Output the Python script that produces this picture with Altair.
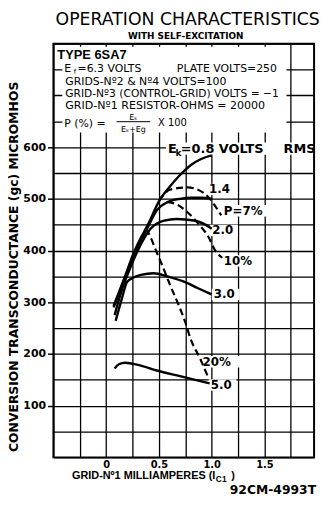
import altair as alt
import pandas as pd

# ---------------- data ----------------
# solid curves: conversion transconductance vs grid-1 current, per Ek (volts rms)
x_08 = [0.07, 0.15, 0.2, 0.25, 0.3, 0.4, 0.5, 0.6, 0.7, 0.8, 0.9, 1.0]
y_08 = [293, 335, 362, 390, 413, 452, 495, 523, 546, 565, 577, 584]
x_14 = [0.07, 0.15, 0.2, 0.3, 0.4, 0.48, 0.55, 0.61, 0.7, 0.8, 0.9, 1.0]
y_14 = [290, 332, 358, 408, 447, 478, 490, 496, 500, 502, 502, 500]
x_20 = [0.08, 0.15, 0.2, 0.3, 0.42, 0.55, 0.67, 0.83, 0.98, 1.0]
y_20 = [275, 325, 352, 400, 442, 458, 461, 458, 445, 442]
x_30 = [0.09, 0.15, 0.2, 0.33, 0.45, 0.58, 0.77, 0.86, 1.0]
y_30 = [264, 308, 340, 353, 356, 350, 337, 328, 315]
x_50 = [0.08, 0.12, 0.18, 0.3, 0.48, 0.7, 0.98]
y_50 = [172, 180, 183, 179, 168, 157, 143]
# dashed curves: constant P (%)
x_p7 = [0.5, 0.61, 0.77, 0.92, 1.03, 1.09]
y_p7 = [497, 518, 522, 512, 487, 468]
x_p10 = [0.58, 0.68, 0.77, 0.89, 0.97, 1.03, 1.1]
y_p10 = [494, 488, 474, 448, 426, 401, 386]
x_p20 = [0.38, 0.42, 0.47, 0.53, 0.61, 0.69, 0.75, 0.8, 0.89, 0.97]
y_p20 = [442, 426, 401, 372, 331, 293, 261, 229, 191, 153]

solid_series = {"0.8": (x_08, y_08), "1.4": (x_14, y_14), "2.0": (x_20, y_20),
                "3.0": (x_30, y_30), "5.0": (x_50, y_50)}
dashed_series = {"7%": (x_p7, y_p7), "10%": (x_p10, y_p10), "20%": (x_p20, y_p20)}

# curve labels
label_text = ["1.4", "P=7%", "2.0", "10%", "3.0", "20%", "5.0"]
label_x = [0.975, 1.115, 1.005, 1.115, 1.02, 0.912, 0.99]
label_y = [518, 477, 439, 380, 315, 185, 140]
label_wpx = [23, 46, 26, 37, 26, 40, 26]

x_ticks = [-0.5 + 0.25 * i for i in range(10)]
y_ticks = list(range(0, 801, 50))

# ---------------- build tables ----------------
rows = []
for kind, group in (("solid", solid_series), ("dashed", dashed_series)):
    for name, (xs_, ys_) in group.items():
        for i, (a, b) in enumerate(zip(xs_, ys_)):
            rows.append({"x": a, "y": b, "s": name, "k": kind, "i": i})
df = pd.DataFrame(rows)
lbl = pd.DataFrame({"x": label_x, "y": label_y, "t": label_text, "w": label_wpx})

W, H = 264, 419
PXU = W / (1.97 + 0.5)
xs = alt.Scale(domain=[-0.5, 1.97], nice=False, zero=False)
ys = alt.Scale(domain=[0, 800], nice=False, zero=False)

xaxis = alt.Axis(
    values=x_ticks, title=None, ticks=False, domain=False, grid=True,
    gridColor="black", gridWidth=1.3, gridOpacity=1,
    labelExpr="(datum.value==0)?'0':(datum.value==0.5||datum.value==1||datum.value==1.5)?format(datum.value,'.1f'):''",
    labelFont="DejaVu Sans", labelFontWeight="bold", labelFontSize=10,
    labelColor="black", labelPadding=2, labelFlush=False, labelOverlap=False)
yaxis = alt.Axis(
    values=y_ticks, title=None, domain=False, grid=True,
    gridColor="black", gridWidth=1.3, gridOpacity=1,
    ticks=True, tickSize=6, tickColor="black", tickWidth=1.5,
    tickOpacity={"condition": {"test": "datum.value>=100 && datum.value<=600 && datum.value%100==0", "value": 1}, "value": 0},
    labelExpr="(datum.value>=100 && datum.value<=600 && datum.value%100==0)?datum.label:''",
    labelFont="DejaVu Sans", labelFontWeight="bold", labelFontSize=11,
    labelColor="black", labelPadding=2, labelFlush=False, labelOverlap=False)


def X(f):
    return alt.X(f, scale=xs, axis=xaxis)


def Y(f):
    return alt.Y(f, scale=ys, axis=yaxis)


one = pd.DataFrame({"t": [""]})


def ptxt(t, px, py, size, weight="normal", align="left", font="DejaVu Sans", angle=0, baseline="alphabetic"):
    return alt.Chart(pd.DataFrame({"t": [t]})).mark_text(
        align=align, baseline=baseline, font=font, fontSize=size,
        fontWeight=weight, angle=angle, color="black"
    ).encode(x=alt.value(px), y=alt.value(py), text="t:N")


# header white block (hides grid under the lettering)
header_bg = alt.Chart(one).mark_rect(color="white").encode(
    x=alt.value(9), x2=alt.value(236), y=alt.value(3), y2=alt.value(90))

# white patches behind labels
lbl_bg = alt.Chart(lbl).transform_calculate(
    x1=f"datum.x - 2/{PXU}", x2=f"datum.x + datum.w/{PXU}",
    y1="datum.y - 11", y2="datum.y + 11"
).mark_rect(color="white").encode(x=X("x1:Q"), x2="x2:Q", y=Y("y1:Q"), y2="y2:Q")

ek = pd.DataFrame({"x": [0.586], "y": [597]})
ek_bg = alt.Chart(ek).transform_calculate(
    x1=f"datum.x - 2/{PXU}", x2="1.955", y1="datum.y - 12", y2="datum.y + 12"
).mark_rect(color="white").encode(x=X("x1:Q"), x2="x2:Q", y=Y("y1:Q"), y2="y2:Q")

solid = alt.Chart(df).transform_filter("datum.k=='solid'").mark_line(
    color="black", strokeWidth=2.4, interpolate="monotone"
).encode(x=X("x:Q"), y=Y("y:Q"), detail="s:N", order="i:Q")

dashed = alt.Chart(df).transform_filter("datum.k=='dashed'").mark_line(
    color="black", strokeWidth=2.2, strokeDash=[7, 4], interpolate="monotone"
).encode(x=X("x:Q"), y=Y("y:Q"), detail="s:N", order="i:Q")

labels = alt.Chart(lbl).mark_text(
    align="left", baseline="middle", font="DejaVu Sans", fontWeight="bold",
    fontSize=12, color="black"
).encode(x=X("x:Q"), y=Y("y:Q"), text="t:N")


def ek_part(t, dx, dy, size):
    return alt.Chart(ek).transform_calculate(t=f"'{t}'").mark_text(
        align="left", baseline="middle", font="DejaVu Sans", fontWeight="bold",
        fontSize=size, dx=dx, dy=dy, color="black"
    ).encode(x=X("x:Q"), y=Y("y:Q"), text="t:N")


ek_labels = [ek_part("E", 0, 0, 13), ek_part("k", 7.5, 4, 9),
             ek_part("=0.8 VOLTS", 13, 0, 13), ek_part("RMS", 117, 0, 13)]

frac_bar = alt.Chart(one).mark_rule(color="black", strokeWidth=1).encode(
    x=alt.value(64), x2=alt.value(98), y=alt.value(79))

texts = [
    ptxt("OPERATION  CHARACTERISTICS", 136, -18.5, 17.5, align="center"),
    ptxt("WITH SELF-EXCITATION", 134, -5, 9, weight="bold", align="center"),
    ptxt("TYPE 6SA7", 4, 16, 13, weight="bold", font="Liberation Sans"),
    ptxt("E", 11, 29, 11),
    ptxt("f", 20.5, 30.5, 7),
    ptxt("=6.3 VOLTS", 24.5, 29, 11),
    ptxt("PLATE VOLTS=250", 125, 29, 11),
    ptxt("GRIDS-Nº2 & Nº4  VOLTS=100", 12, 42, 11),
    ptxt("GRID-Nº3 (CONTROL-GRID) VOLTS = −1", 12, 54, 10.8),
    ptxt("GRID-Nº1  RESISTOR-OHMS = 20000", 12, 66, 11.2),
    ptxt("P (%) =", 11, 84, 11),
    ptxt("Eₖ", 81, 77.5, 8, align="center"),
    ptxt("Eₖ+Eg", 81, 89, 8, align="center"),
    ptxt("X 100", 106, 83, 10),
    ptxt("CONVERSION  TRANSCONDUCTANCE (gc) MICROMHOS", -40, 226, 12.5,
         weight="bold", align="center", angle=270, baseline="middle"),
    ptxt("GRID-Nº1  MILLIAMPERES (I", 164, 441, 11, weight="bold",
         align="right", font="Liberation Sans"),
    ptxt("C1", 164.5, 444, 8.5, weight="bold", font="Liberation Sans"),
    ptxt(")", 180, 441, 11, weight="bold", font="Liberation Sans"),
    ptxt("92CM-4993T", 266, 456.5, 12.5, weight="bold", align="right"),
]

chart = alt.layer(
    header_bg, lbl_bg, ek_bg, solid, dashed, labels, *ek_labels, frac_bar, *texts
).properties(
    width=W, height=H,
    autosize=alt.AutoSizeParams(type="none"),
    padding={"left": 46, "top": 33, "right": 6, "bottom": 37},
    background="white",
).configure_view(stroke="black", strokeWidth=2)

chart.save("out.html", embed_options={"renderer": "svg", "actions": False})
